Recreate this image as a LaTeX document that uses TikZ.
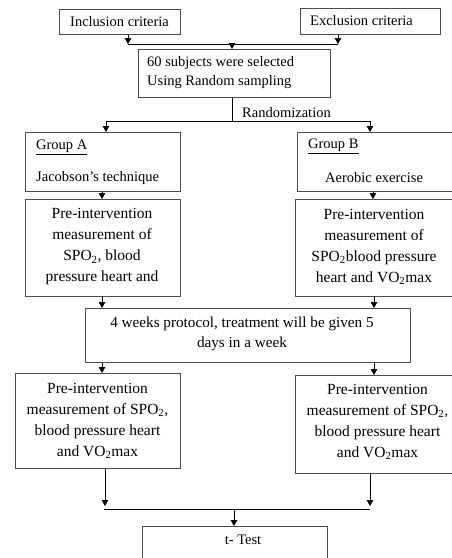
\documentclass[tikz,border=0pt]{standalone}
\usepackage{fontspec}
\setmainfont{Liberation Serif}
\usetikzlibrary{arrows.meta}
\begin{document}
\begin{tikzpicture}[x=1pt,y=-1pt,
  box/.style={draw=black!70,line width=1.1pt,rectangle,inner sep=0pt,anchor=north west},
  conn/.style={draw=black,line width=0.8pt},
  arr/.style={conn,-{Triangle[length=6pt,width=6.5pt]}},
  small/.style={inner sep=0pt,font=\fontsize{14.5}{19}\selectfont},
  big/.style={inner sep=0pt,align=center,font=\fontsize{15.5}{21}\selectfont},
  mid/.style={inner sep=0pt,align=center,font=\fontsize{15.2}{20}\selectfont}]
\useasboundingbox (0,0) rectangle (452,558);
\clip (0,0) rectangle (452,558);
% boxes
\node[box,minimum width=121pt,minimum height=25pt] (inc) at (59,9) {};
\node[box,minimum width=140pt,minimum height=26pt] (exc) at (300,8) {};
\node[box,minimum width=192pt,minimum height=48pt] (sel) at (138,49) {};
\node[box,minimum width=155pt,minimum height=59pt] (grpA) at (25,132) {};
\node[box,minimum width=165pt,minimum height=59pt] (grpB) at (297,132) {};
\node[box,minimum width=155pt,minimum height=97pt] (preA) at (25,199) {};
\node[box,minimum width=165pt,minimum height=97pt] (preB) at (295,199) {};
\node[box,minimum width=325pt,minimum height=54pt] (prot) at (85,308) {};
\node[box,minimum width=165pt,minimum height=95pt] (postA) at (15,373) {};
\node[box,minimum width=165pt,minimum height=98pt] (postB) at (295,375) {};
\node[box,minimum width=185pt,minimum height=60pt] (ttest) at (142,526) {};
% texts
\node[small,anchor=west] (tinc) at (70,21.5) {Inclusion criteria};
\node[small,anchor=west] (texc) at (310,20.5) {Exclusion criteria};
\node[small,anchor=west,align=left,font=\fontsize{14.5}{19.5}\selectfont] (tsel) at (147,72.5) {60 subjects were selected\\Using Random sampling};
\node[small,anchor=west] (trand) at (242,113) {Randomization};
\node[small,anchor=west] (tga) at (36,147) {\underline{Group A}};
\node[small,anchor=west] (tja) at (36,178) {Jacobson’s technique};
\node[small,anchor=west] (tgb) at (308,146) {\underline{Group B}};
\node[small,anchor=west] (tae) at (325,178) {Aerobic exercise};
\node[big] (tpreA) at (102,247) {Pre-intervention\\measurement of\\SPO\textsubscript{2}, blood\\pressure heart and};
\node[big] (tpreB) at (374,247) {Pre-intervention\\measurement of\\SPO\textsubscript{2}blood pressure\\heart and VO\textsubscript{2}max};
\node[mid] (tprot) at (242,334) {4 weeks protocol, treatment will be given 5\\days in a week};
\node[big] (tpostA) at (97.5,421) {Pre-intervention\\measurement of SPO\textsubscript{2},\\blood pressure heart\\and VO\textsubscript{2}max};
\node[big] (tpostB) at (377.5,422) {Pre-intervention\\measurement of SPO\textsubscript{2},\\blood pressure heart\\and VO\textsubscript{2}max};
\node[small,anchor=center] (tt) at (243,540) {t- Test};
% junction coordinates
\coordinate (j1) at (128,44);
\coordinate (j2) at (338,44);
\coordinate (j3) at (232,44);
\coordinate (r0) at (232,121);
\coordinate (rA) at (106,121);
\coordinate (rB) at (370,121);
\coordinate (b1) at (104,509);
\coordinate (b2) at (370,509);
\coordinate (b3) at (234,509);
% connectors
\draw[arr] (inc.south -| j1) -- (j1);
\draw[arr] (exc.south -| j2) -- (j2);
\draw[conn] (j1) -- (j2);
\draw[arr] (j3) -- (sel.north -| j3);
\draw[conn] (sel.south -| r0) -- (r0);
\draw[conn] (rA) -- (rB);
\draw[arr] (rA) -- (grpA.north -| rA);
\draw[arr] (rB) -- (grpB.north -| rB);
\draw[arr] (grpA.south -| 102,0) -- (preA.north -| 102,0);
\draw[arr] (grpB.south -| 373,0) -- (preB.north -| 373,0);
\draw[arr] (preA.south -| 102,0) -- (prot.north -| 102,0);
\draw[arr] (preB.south -| 374,0) -- (prot.north -| 374,0);
\draw[arr] (prot.south -| 102,0) -- (postA.north -| 102,0);
\draw[arr] (prot.south -| 374,0) -- (postB.north -| 374,0);
\draw[arr] (postA.south -| 105,0) -- (105,506);
\draw[arr] (postB.south -| 370,0) -- (370,506);
\draw[conn] (b1) -- (b2);
\draw[arr] (b3) -- (ttest.north -| b3);
\end{tikzpicture}
\end{document}
